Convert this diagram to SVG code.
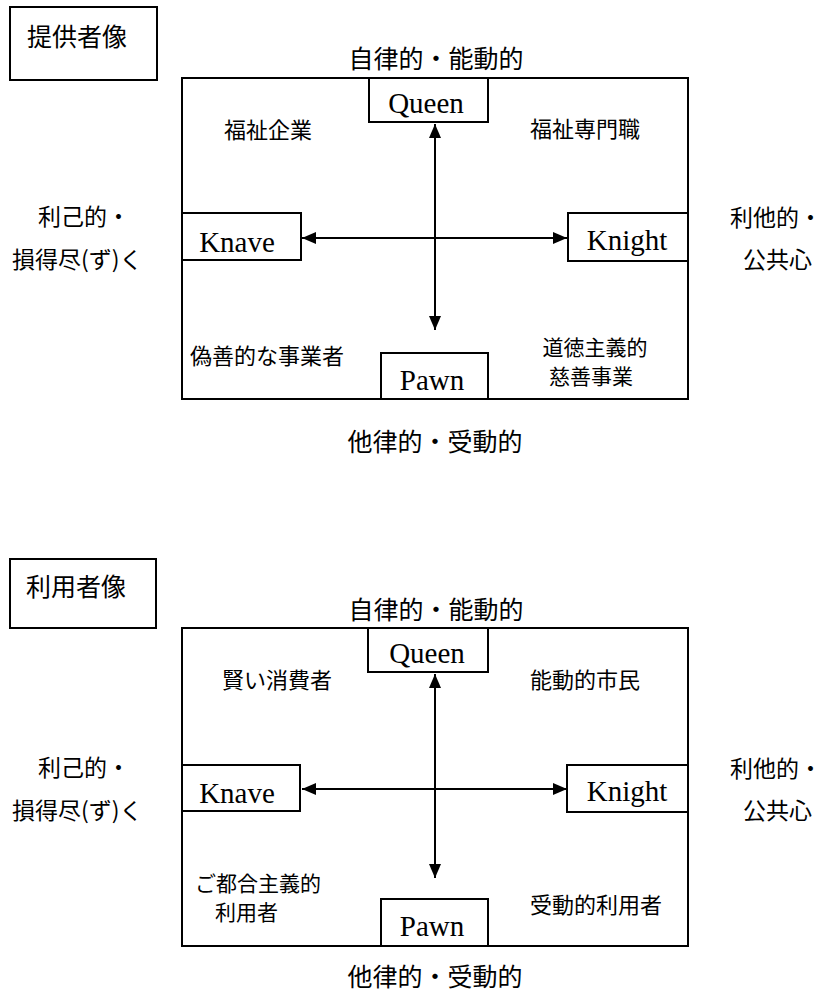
<svg xmlns="http://www.w3.org/2000/svg" width="832" height="1001" viewBox="0 0 832 1001">
<style>
.box{fill:#fff;stroke:#000;stroke-width:2}
.frame{fill:none;stroke:#000;stroke-width:2}
.jp{font-family:"Noto Sans CJK JP","Noto Sans",sans-serif;fill:#000}
.t25{font-size:25px}
.t23{font-size:23px}
.t22{font-size:22px}
.t21{font-size:21px}
.lat{font-family:"Liberation Serif","Times New Roman",serif;font-size:29px;fill:#000;text-anchor:middle}
.con{stroke:#000;stroke-width:2;fill:none;marker-start:url(#ah);marker-end:url(#ah)}
.mid{text-anchor:middle}
</style>
<defs>
<marker id="ah" viewBox="0 0 14 12" refX="14" refY="6" markerWidth="14" markerHeight="12" markerUnits="userSpaceOnUse" orient="auto-start-reverse">
<path d="M0,0 L14,6 L0,12 z" fill="#000"/>
</marker>
</defs>
<rect width="832" height="1001" fill="#fff"/>

<!-- Top diagram: provider -->
<g id="provider">
<g id="p-title"><rect class="box" x="10" y="7" width="147" height="73"/><text class="jp t25" x="27" y="46">提供者像</text></g>
<rect id="p-frame" class="frame" x="182" y="78" width="506" height="321"/>
<text class="jp t25 mid" x="436" y="68">自律的・能動的</text>
<text class="jp t25 mid" x="435" y="451">他律的・受動的</text>
<text class="jp t23" x="38" y="225">利己的・</text>
<text class="jp t23" x="12" y="268">損得尽(ず)く</text>
<text class="jp t23" x="730" y="226">利他的・</text>
<text class="jp t23" x="743" y="268">公共心</text>
<text class="jp t22" x="224" y="138">福祉企業</text>
<text class="jp t22" x="530" y="137">福祉専門職</text>
<text class="jp t22" x="190" y="364">偽善的な事業者</text>
<text class="jp t21 mid" x="595" y="355">道徳主義的</text>
<text class="jp t21 mid" x="591" y="384">慈善事業</text>
<g id="p-connectors">
<line class="con" x1="435" y1="124" x2="435" y2="330"/>
<line class="con" x1="302" y1="238" x2="567" y2="238"/>
</g>
<g id="p-queen"><rect class="box" x="369" y="78" width="119" height="44"/><text class="lat" x="426" y="113">Queen</text></g>
<g id="p-knave"><rect class="box" x="182" y="213" width="119" height="47"/><text class="lat" x="237" y="252">Knave</text></g>
<g id="p-knight"><rect class="box" x="568" y="213" width="120" height="48"/><text class="lat" x="627" y="250">Knight</text></g>
<g id="p-pawn"><rect class="box" x="381" y="353" width="107" height="46"/><text class="lat" x="432" y="390">Pawn</text></g>
</g>

<!-- Bottom diagram: user -->
<g id="user">
<g id="u-title"><rect class="box" x="10" y="559" width="146" height="69"/><text class="jp t25" x="26" y="596">利用者像</text></g>
<rect id="u-frame" class="frame" x="182" y="628" width="506" height="318"/>
<text class="jp t25 mid" x="436" y="619">自律的・能動的</text>
<text class="jp t25 mid" x="435" y="986">他律的・受動的</text>
<text class="jp t23" x="38" y="776">利己的・</text>
<text class="jp t23" x="12" y="819">損得尽(ず)く</text>
<text class="jp t23" x="730" y="777">利他的・</text>
<text class="jp t23" x="743" y="819">公共心</text>
<text class="jp t22" x="222" y="688">賢い消費者</text>
<text class="jp t22" x="530" y="688">能動的市民</text>
<text class="jp t21" x="195" y="891">ご都合主義的</text>
<text class="jp t21" x="215" y="920">利用者</text>
<text class="jp t22" x="530" y="913">受動的利用者</text>
<g id="u-connectors">
<line class="con" x1="435" y1="674" x2="435" y2="878"/>
<line class="con" x1="302" y1="789" x2="567" y2="789"/>
</g>
<g id="u-queen"><rect class="box" x="368" y="628" width="120" height="44"/><text class="lat" x="427" y="663">Queen</text></g>
<g id="u-knave"><rect class="box" x="182" y="765" width="118" height="46"/><text class="lat" x="237" y="803">Knave</text></g>
<g id="u-knight"><rect class="box" x="567" y="765" width="121" height="47"/><text class="lat" x="627" y="801">Knight</text></g>
<g id="u-pawn"><rect class="box" x="381" y="899" width="107" height="47"/><text class="lat" x="432" y="936">Pawn</text></g>
</g>
</svg>
